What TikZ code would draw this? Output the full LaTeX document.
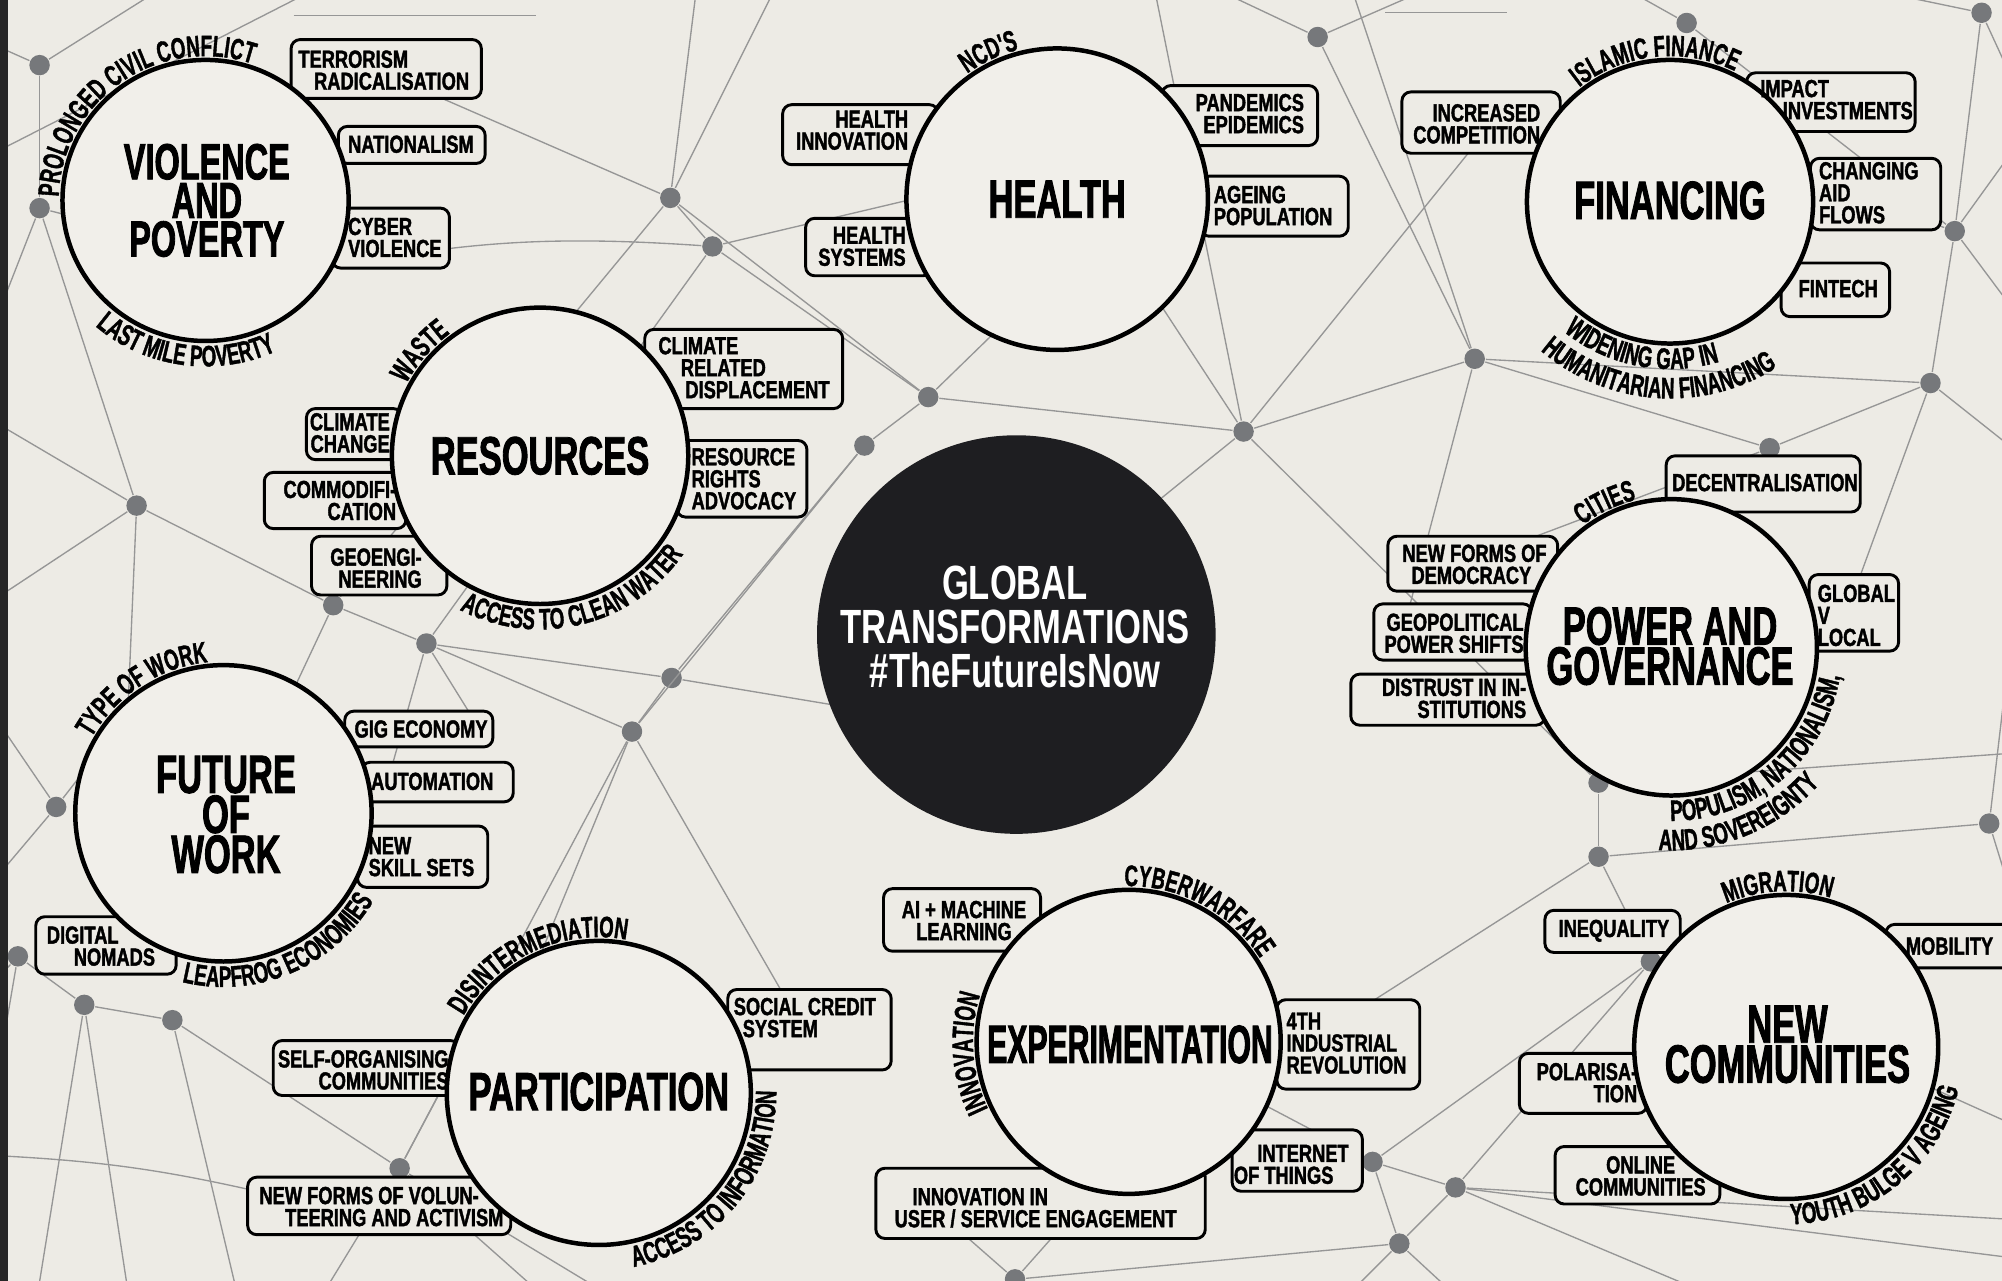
\documentclass[tikz,border=0pt]{standalone}
\usepackage{fontspec}
\usetikzlibrary{shapes.geometric,decorations.text,fit}
\newfontfamily\TitleF{Liberation Sans}[FakeStretch=0.64, FakeBold=1.6]
\newfontfamily\ExpF{Liberation Sans}[FakeStretch=0.56, FakeBold=1.6]
\newfontfamily\BoxF{Liberation Sans}[FakeStretch=0.74, FakeBold=1.6]
\newfontfamily\ArcF{Liberation Sans}[FakeStretch=0.63, FakeBold=1.3]
\newfontfamily\CenF{Liberation Sans}[FakeStretch=0.72]
\newcommand\arcfont{\ArcF\bfseries\fontsize{6.6}{7}\selectfont}
\definecolor{bgc}{RGB}{237,235,229}
\definecolor{circc}{RGB}{241,239,234}
\definecolor{netc}{RGB}{150,150,150}
\definecolor{dotc}{RGB}{118,120,123}
\definecolor{darkc}{RGB}{30,30,33}
\tikzset{
 topic/.style={ellipse, draw=black, line width=1pt, fill=circc, inner sep=0pt},
 ttl/.style={inner sep=0pt, align=center, font=\TitleF\bfseries\fontsize{12}{8.9}\selectfont},
 tbox/.style={draw=black, line width=0.65pt, rounded corners=2pt, fill=bgc, inner sep=0pt},
 btxt/.style={inner sep=0pt, font=\BoxF\bfseries\fontsize{5.5}{4.9}\selectfont},
 dot/.style={circle, fill=dotc, inner sep=0pt, minimum size=0.16cm},
 net/.style={draw=netc, line width=0.3pt},
}
\newcommand\TBox[5]{\node[tbox, fit={(#2,-#3)(#4,-#5)}] (#1) {};}
\newcommand\BxW[4]{\node[btxt, anchor=west, align=left] (#1) at (#2,-#3) {#4};}
\newcommand\BxE[4]{\node[btxt, anchor=east, align=right] (#1) at (#2,-#3) {#4};}
\newcommand\BxC[4]{\node[btxt, align=center] (#1) at (#2,-#3) {#4};}
\newcommand\ArcT[7]{\path[shift={(#1,-#2)}, decorate, decoration={text along path, text align=center, text={|\arcfont|#7}}] (#5:#3 and #4) arc[start angle=#5, end angle=#6, x radius=#3, y radius=#4];}
\begin{document}
\begin{tikzpicture}[x=0.01cm,y=0.01cm]
\path[clip] (0,0) rectangle (1568,-1003);
\fill[bgc] (0,0) rectangle (1568,-1003);
% network dots
\foreach \n/\x/\y in {d1/31/51,d2/31/163,d3/525/155,d4/558/193,d5/1032/29,d6/1321/18,d7/1552/10,d8/1531/181,d9/1155/281,d10/1512/300,d11/727/311,d12/677/349,d13/974/338,d14/1386/351,d15/107/396,d16/261/474,d17/334/504,d18/526/531,d19/495/573,d20/44/632,d21/1252/613,d22/1252/671,d23/1558/645,d24/14/749,d25/66/787,d26/135/799,d27/313/915,d28/1293/753,d29/1075/910,d30/1140/930,d31/1096/974,d32/795/1002}
  \node[dot] (\n) at (\x,-\y) {};
% free ends
\foreach \n/\x/\y in {e1/-5/120,e2/240/-5,e3/120/-5,e4/-5/255,e5/605/-5,e6/545/-5,e7/330/70,e8/-5/330,e9/-5/470,e10/-5/560,e11/-5/690,e12/-5/860,e13/30/1010,e14/100/1010,e15/185/1010,e16/255/1010,e17/420/1010,e19/1060/1010,e20/1135/1010,e21/1330/1010,e22/1575/985,e23/1575/880,e24/1575/700,e25/1575/590,e26/1575/500,e27/1575/350,e28/1575/240,e29/1575/120,e30/1575/60,e31/1480/-5,e32/1280/-5,e33/1110/-5,e34/960/-5,e35/1060/-5,e36/-5/35,e37/235/215,e38/740/150,e39/900/225,e40/1100/490,e41/1150/440,e42/1050/800,e43/980/860,e44/730/945,e45/850/940,e46/1575/955,e47/230/540,e48/300/625,e49/375/570,e51/700/560,e52/410/780,e53/620/790,e55/100/560,e56/-5/770,e57/-5/905,e58/350/845,e59/470/1010,e61/1440/150,e62/1450/470,e64/800/240,e66/905/-5,e67/1158/110,e68/210/935,e69/230/12,e70/420/12,e71/1085/10,e72/1180/10}
  \coordinate (\n) at (\x,-\y);
\foreach \a/\b in {d1/e3,d1/d2,d1/e36,e1/e2,d2/d15,d2/e4,d2/e37,d3/d4,d3/e5,d3/e6,d3/d11,d3/e7,d3/d16,d4/d11,d4/e38,d4/d17,d11/d12,d11/d13,d11/e64,d12/d18,d12/d19,d13/d9,d13/d21,d13/e39,d13/e51,d13/e66,d13/e67,d9/e35,d9/d10,d9/d14,d9/e40,d5/e34,d5/e33,d5/d9,d6/e32,d6/d8,d7/d8,d7/e30,d7/e31,d8/d10,d8/e29,d8/e28,d8/e61,d10/d14,d10/e27,d10/e62,d14/d21,d14/e41,d21/d22,d21/e25,d22/d28,d22/e42,d22/d23,d23/e24,d23/e26,d28/d29,d28/d30,d28/e23,d29/d30,d29/d31,d30/d31,d29/e43,d30/e22,d31/e19,d31/e20,d30/e21,d30/e46,d32/e44,d32/e45,d32/d31,d15/d16,d15/e8,d15/e9,d15/e55,d16/d17,d16/e47,d17/d18,d17/d19,d17/e48,d17/e49,d18/d19,d18/e51,d19/e52,d19/e53,d19/d27,d20/e10,d20/e11,d20/e55,d24/d25,d24/e56,d24/e12,d25/d26,d25/e13,d25/e14,d26/e15,d26/d27,d27/e16,d27/e17,d27/e58,d27/e59,e69/e70,e71/e72}
  \draw[net] (\a) -- (\b);
\draw[net] (e37) to[bend left=8] (d4);
\draw[net] (e57) to[bend left=5] (e68);
% boxes
\TBox{b1}{228}{31}{377}{77}
\TBox{b2}{265}{99}{380}{128}
\TBox{b3}{260}{163}{352}{210}
\TBox{b4}{613}{82}{735}{129}
\TBox{b5}{631}{171}{730}{216}
\TBox{b6}{910}{67}{1032}{114}
\TBox{b7}{940}{138}{1056}{185}
\TBox{b8}{1098}{72}{1222}{120}
\TBox{b9}{1368}{57}{1500}{103}
\TBox{b10}{1418}{124}{1520}{180}
\TBox{b11}{1395}{206}{1480}{248}
\TBox{b12}{505}{258}{660}{320}
\TBox{b13}{240}{320}{315}{360}
\TBox{b14}{207}{370}{318}{414}
\TBox{b15}{244}{420}{350}{466}
\TBox{b16}{530}{345}{632}{405}
\TBox{b17}{270}{557}{386}{585}
\TBox{b18}{283}{597}{402}{628}
\TBox{b19}{280}{647}{382}{695}
\TBox{b20}{28}{718}{138}{763}
\TBox{b21}{214}{815}{360}{858}
\TBox{b22}{194}{922}{400}{967}
\TBox{b23}{570}{775}{698}{838}
\TBox{b24}{692}{696}{815}{745}
\TBox{b25}{1000}{783}{1112}{853}
\TBox{b26}{965}{885}{1067}{933}
\TBox{b27}{686}{915}{944}{970}
\TBox{b28}{1210}{713}{1316}{746}
\TBox{b29}{1477}{724}{1590}{758}
\TBox{b30}{1190}{825}{1290}{872}
\TBox{b31}{1218}{898}{1347}{943}
\TBox{b32}{1305}{357}{1457}{401}
\TBox{b33}{1087}{420}{1220}{463}
\TBox{b34}{1076}{473}{1200}{517}
\TBox{b35}{1058}{528}{1210}{568}
\TBox{b36}{1417}{450}{1487}{510}
% topic circles
\node[topic, minimum width=2.24cm, minimum height=2.20cm] (vp) at (161,-157) {};
\node[topic, minimum width=2.36cm, minimum height=2.36cm] (he) at (828,-156) {};
\node[topic, minimum width=2.24cm, minimum height=2.22cm] (fi) at (1308,-158) {};
\node[topic, minimum width=2.32cm, minimum height=2.32cm] (re) at (423,-357) {};
\node[topic, minimum width=2.32cm, minimum height=2.32cm] (fw) at (175,-637) {};
\node[topic, minimum width=2.38cm, minimum height=2.38cm] (pa) at (469,-856) {};
\node[topic, minimum width=2.38cm, minimum height=2.38cm] (ex) at (884,-816) {};
\node[topic, minimum width=2.38cm, minimum height=2.38cm] (nc) at (1399,-820) {};
\node[topic, minimum width=2.28cm, minimum height=2.32cm] (pg) at (1309,-507) {};
\node[circle, fill=darkc, minimum size=3.12cm, inner sep=0pt] (gt) at (796,-497) {};
% titles
\node[ttl, font=\TitleF\bfseries\fontsize{11.3}{8.6}\selectfont] (vp-t) at (162,-157) {VIOLENCE\\AND\\POVERTY};
\node[ttl] (he-t) at (828,-156) {HEALTH};
\node[ttl] (fi-t) at (1308,-157) {FINANCING};
\node[ttl] (re-t) at (423,-357) {RESOURCES};
\node[ttl] (fw-t) at (177,-638) {FUTURE\\OF\\WORK};
\node[ttl] (pa-t) at (469,-855) {PARTICIPATION};
\node[ttl] (ex-t) at (885,-818) {\ExpF EXPERIMENTATION};
\node[ttl] (nc-t) at (1400,-818) {NEW\\COMMUNITIES};
\node[ttl] (pg-t) at (1308,-506) {POWER AND\\GOVERNANCE};
\node[inner sep=0pt, text=white, align=center, font=\CenF\bfseries\fontsize{10.7}{9.8}\selectfont] (gt-t) at (795,-491) {GLOBAL\\TRANSFORMATIONS\\\#TheFutureIsNow};
% box texts
\BxW{t1}{233}{55}{TERRORISM\\\hspace*{3.5pt}RADICALISATION}
\BxW{t2}{272}{113}{NATIONALISM}
\BxW{t3}{272}{186}{CYBER\\VIOLENCE}
\BxE{t4}{712}{102}{HEALTH\\INNOVATION}
\BxE{t5}{710}{193}{HEALTH\\SYSTEMS}
\BxE{t6}{1022}{89}{PANDEMICS\\EPIDEMICS}
\BxW{t7}{950}{161}{AGEING\\POPULATION}
\BxE{t8}{1207}{97}{INCREASED\\COMPETITION}
\BxW{t9}{1378}{78}{IMPACT\\\hspace*{5pt}INVESTMENTS}
\BxW{t10}{1424}{151}{CHANGING\\AID\\FLOWS}
\BxW{t11}{1408}{226}{FINTECH}
\BxW{t12}{515}{288}{CLIMATE\\\hspace*{5pt}RELATED\\\hspace*{6pt}DISPLACEMENT}
\BxE{t13}{306}{339}{CLIMATE\\CHANGE}
\BxE{t14}{311}{392}{COMMODIFI-\\CATION}
\BxE{t15}{331}{445}{GEOENGI-\\NEERING}
\BxW{t16}{541}{375}{RESOURCE\\RIGHTS\\ADVOCACY}
\BxW{t17}{277}{571}{GIG ECONOMY}
\BxW{t18}{290}{612}{AUTOMATION}
\BxW{t19}{288}{671}{NEW\\SKILL SETS}
\BxW{t20}{36}{741}{DIGITAL\\\hspace*{6pt}NOMADS}
\BxE{t21}{352}{838}{SELF-ORGANISING\\COMMUNITIES}
\BxE{t22}{395}{945}{NEW FORMS OF VOLUN-\hspace*{5.5pt}\\TEERING AND ACTIVISM}
\BxW{t23}{574}{797}{SOCIAL CREDIT\\\hspace*{2pt}SYSTEM}
\BxC{t24}{755}{721}{AI + MACHINE\\LEARNING}
\BxW{t25}{1007}{817}{4TH\\INDUSTRIAL\\REVOLUTION}
\BxE{t26}{1057}{912}{INTERNET\\OF THINGS\hspace*{3.4pt}}
\BxW{t27}{700}{946}{\hspace*{4pt}INNOVATION IN\\USER / SERVICE ENGAGEMENT}
\BxW{t28}{1220}{729}{INEQUALITY}
\BxW{t29}{1492}{741}{MOBILITY}
\BxE{t30}{1283}{848}{POLARISA-\\TION}
\BxC{t31}{1285}{921}{ONLINE\\COMMUNITIES}
\BxW{t32}{1309}{378}{DECENTRALISATION}
\BxE{t33}{1212}{442}{NEW FORMS OF\\DEMOCRACY\hspace*{3.4pt}}
\BxE{t34}{1194}{496}{GEOPOLITICAL\\POWER SHIFTS}
\BxE{t35}{1196}{547}{DISTRUST IN IN-\\STITUTIONS}
\BxW{t36}{1423}{482}{GLOBAL\\V\\LOCAL}
% arc texts
\ArcT{161}{157}{115}{113}{190}{60}{PROLONGED CIVIL CONFLICT}
\ArcT{161}{157}{132}{130}{212}{312}{LAST MILE POVERTY}
\ArcT{828}{156}{121}{121}{140}{90}{NCD'S}
\ArcT{1308}{158}{115}{114}{140}{52}{ISLAMIC FINANCE}
\ArcT{1308}{158}{132}{131}{215}{303}{WIDENING GAP IN}
\ArcT{1308}{158}{155}{154}{206}{326}{HUMANITARIAN FINANCING}
\ArcT{423}{357}{119}{119}{160}{118}{WASTE}
\ArcT{423}{357}{136}{136}{225}{343}{ACCESS TO CLEAN WATER}
\ArcT{175}{637}{119}{119}{160}{86}{TYPE OF WORK}
\ArcT{175}{637}{136}{136}{245}{341}{LEAPFROG ECONOMIES}
\ArcT{469}{856}{122}{122}{165}{65}{DISINTERMEDIATION}
\ArcT{469}{856}{139}{139}{265}{377}{ACCESS TO INFORMATION}
\ArcT{884}{816}{122}{122}{100}{24}{CYBERWARFARE}
\ArcT{884}{816}{122}{122}{215}{153}{INNOVATION}
\ArcT{1399}{820}{122}{122}{120}{66}{MIGRATION}
\ArcT{1399}{820}{139}{139}{255}{363}{YOUTH BULGE V AGEING}
\ArcT{1309}{507}{117}{119}{132}{98}{CITIES}
\ArcT{1309}{507}{134}{136}{255}{365}{POPULISM, NATIONALISM,}
\ArcT{1309}{507}{157}{159}{252}{332}{AND SOVEREIGNTY}
\fill[black!85] (0,0) rectangle (6,-1003);
\end{tikzpicture}
\end{document}
